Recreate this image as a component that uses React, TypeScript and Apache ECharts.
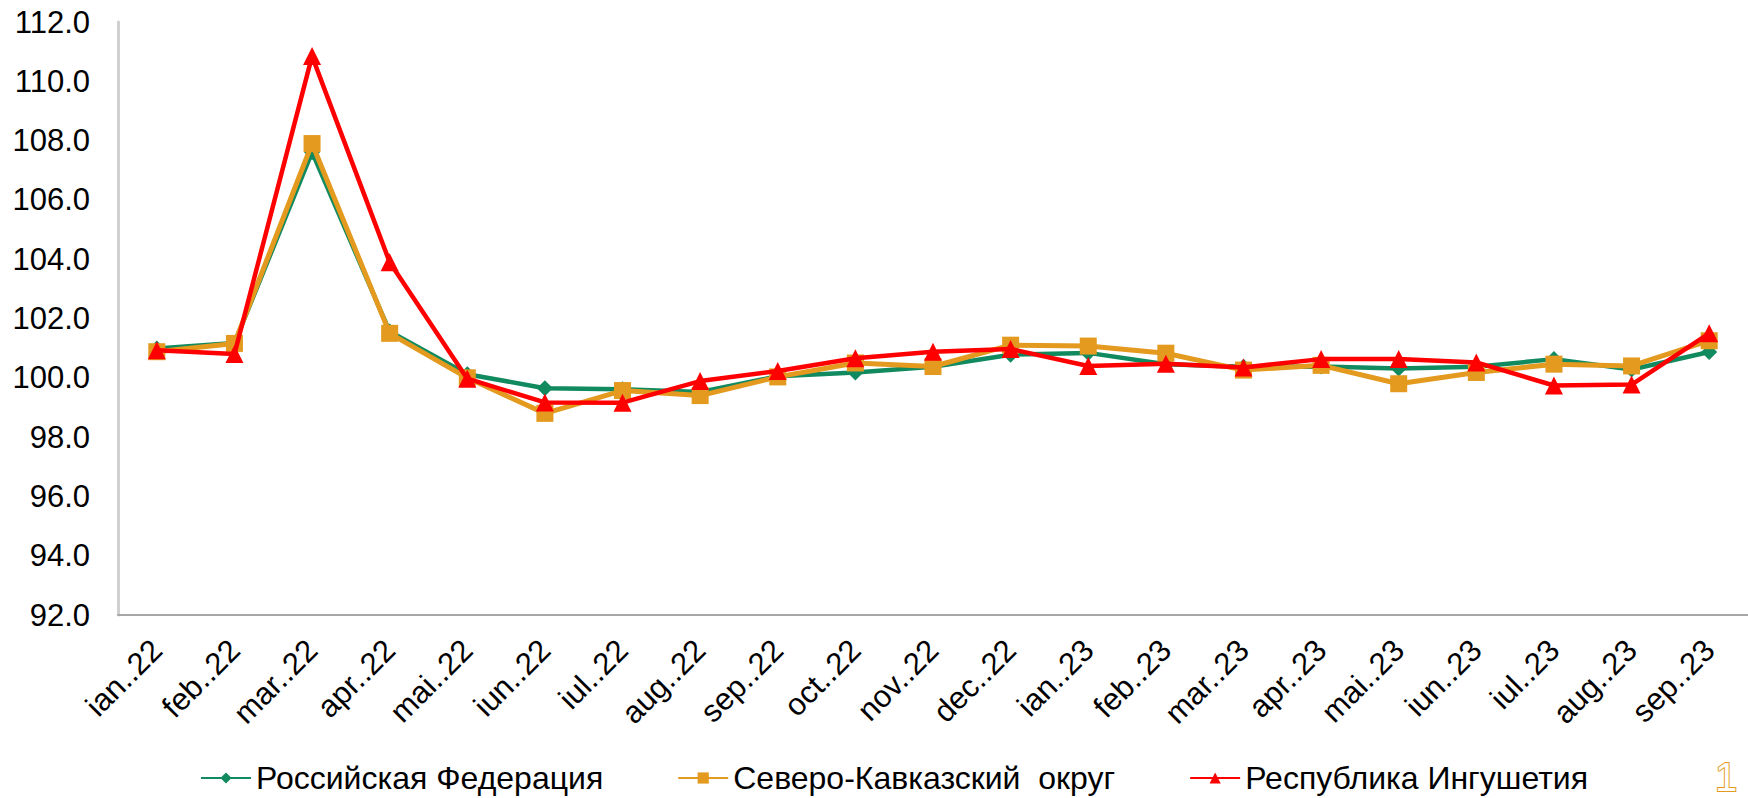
import React, { useEffect, useRef } from "react";
import * as echarts from "echarts";

const categories = [
  "ian..22", "feb..22", "mar..22", "apr..22", "mai..22", "iun..22", "iul..22",
  "aug..22", "sep..22", "oct..22", "nov..22", "dec..22", "ian..23", "feb..23",
  "mar..23", "apr..23", "mai..23", "iun..23", "iul..23", "aug..23", "sep..23",
];

const russia = [
  100.99, 101.17, 107.61, 101.56, 100.12, 99.65, 99.61, 99.52, 100.05, 100.18, 100.37,
  100.78, 100.84, 100.46, 100.37, 100.38, 100.31, 100.37, 100.63, 100.28, 100.87,
];

const skfo = [
  100.88, 101.16, 107.9, 101.5, 100.0, 98.8, 99.57, 99.4, 100.03, 100.5, 100.38,
  101.1, 101.07, 100.83, 100.26, 100.42, 99.8, 100.18, 100.46, 100.4, 101.25,
];

const ingushetia = [
  100.93, 100.8, 110.85, 103.9, 99.97, 99.17, 99.16, 99.89, 100.23, 100.66, 100.88,
  100.97, 100.4, 100.47, 100.35, 100.63, 100.63, 100.52, 99.74, 99.77, 101.5,
];

const seriesNames = [
  "Российская Федерация",
  "Северо-Кавказский  округ",
  "Республика Ингушетия",
];

const yMin = 92;
const yMax = 112;
const yStep = 2;

export default function App() {
  const ref = useRef<HTMLDivElement>(null);

  useEffect(() => {
    if (!ref.current) return;
    const chart = echarts.init(ref.current, undefined, { renderer: "svg" });
    const font = "'Liberation Sans', Arial, sans-serif";
    chart.setOption({
      animation: false,
      backgroundColor: "#ffffff",
      grid: { left: 118, top: 22, width: 1634, height: 593, containLabel: false },
      legend: {
        left: 195,
        top: 757,
        itemWidth: 50,
        itemHeight: 14,
        itemGap: 74,
        textStyle: { fontFamily: font, fontSize: 32, color: "#000000" },
        data: seriesNames,
      },
      xAxis: {
        type: "category",
        data: categories,
        boundaryGap: true,
        axisLine: { show: true, lineStyle: { color: "#A6A6A6", width: 2 } },
        axisTick: { show: false },
        axisLabel: {
          rotate: 45,
          interval: 0,
          margin: 30,
          fontFamily: font,
          fontSize: 31,
          color: "#000000",
        },
        splitLine: { show: false },
      },
      yAxis: {
        type: "value",
        min: yMin,
        max: yMax,
        interval: yStep,
        axisLine: { show: true, lineStyle: { color: "#D0D0D0", width: 3 } },
        axisTick: { show: false },
        axisLabel: {
          margin: 28,
          fontFamily: font,
          fontSize: 31,
          color: "#000000",
          formatter: (v: number) => v.toFixed(1),
        },
        splitLine: { show: false },
      },
      series: [
        {
          name: seriesNames[0],
          type: "line",
          data: russia,
          symbol: "diamond",
          symbolSize: 16,
          lineStyle: { color: "#108A5E", width: 4.5 },
          itemStyle: { color: "#108A5E" },
          z: 2,
        },
        {
          name: seriesNames[1],
          type: "line",
          data: skfo,
          symbol: "rect",
          symbolSize: 17,
          lineStyle: { color: "#E39A1E", width: 5 },
          itemStyle: { color: "#E39A1E" },
          z: 3,
        },
        {
          name: seriesNames[2],
          type: "line",
          data: ingushetia,
          symbol: "triangle",
          symbolSize: 18,
          lineStyle: { color: "#FF0000", width: 4.5 },
          itemStyle: { color: "#FF0000" },
          z: 4,
        },
      ],
      graphic: [
        {
          type: "text",
          left: 1714,
          top: 756,
          style: {
            text: "1",
            fontSize: 40,
            fontFamily: font,
            fill: "#ffffff",
            stroke: "#E39A1E",
            lineWidth: 2,
          },
        },
      ],
    });
    return () => chart.dispose();
  }, []);

  return (
    <div
      ref={ref}
      style={{ position: "absolute", left: 0, top: 0, width: 1748, height: 798, background: "#fff" }}
    />
  );
}
